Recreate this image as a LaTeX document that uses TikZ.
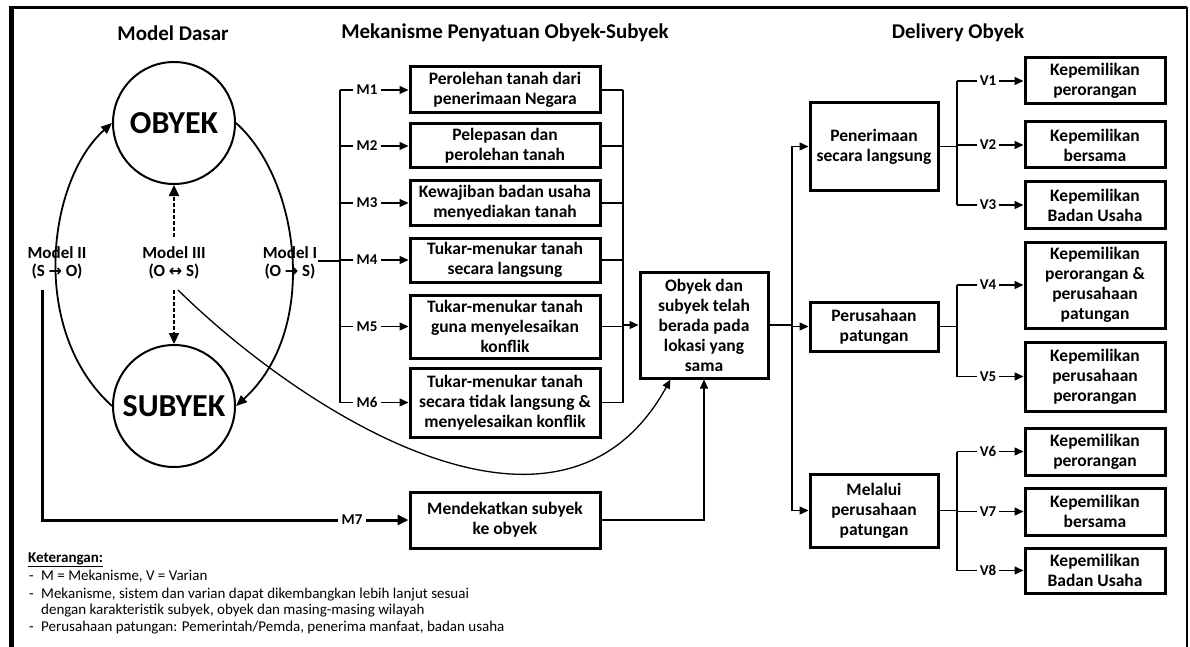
\documentclass[tikz,border=0pt]{standalone}
\usepackage{fontspec}
\setmainfont{Carlito}
\newfontfamily\arrowfont{DejaVu Sans}
\usetikzlibrary{arrows.meta,calc}
\begin{document}
\begin{tikzpicture}[x=1pt,y=-1pt,
  conn/.style={line width=1.3},
  arr/.style={line width=1.3,-{Triangle[length=9,width=8]}},
  thickarr/.style={line width=3,-{Triangle[length=11,width=10]}},
  dasharr/.style={line width=2.2,dash pattern=on 4 off 2,-{Triangle[length=11,width=10]}},
  arcarr/.style={line width=1.8,-{Triangle[length=11,width=9]}},
  box/.style={draw,line width=3,align=center,inner sep=0,font=\fontsize{17.5}{20}\selectfont\bfseries},
  ttl/.style={font=\fontsize{21}{24}\selectfont\bfseries},
  circ/.style={circle,draw,line width=2,minimum size=122,inner sep=0,font=\fontsize{32}{34}\selectfont\bfseries},
  mlab/.style={align=center,inner sep=1,font=\fontsize{17}{18}\selectfont\bfseries},
  lab/.style={inner sep=3,font=\fontsize{15}{16}\selectfont\bfseries},
  note/.style={anchor=base west,inner sep=0,font=\fontsize{15}{17}\selectfont},
]
\useasboundingbox (0,0) rectangle (1190,647);
% frame
\draw[line width=5] (11,647) -- (11,8);
\draw[line width=3] (9,8) -- (1187,8);
\draw[line width=2] (1187,7) -- (1187,647);
% titles
\node[ttl] (t1) at (173,33) {Model Dasar};
\node[ttl] (t2) at (505,33) {Mekanisme Penyatuan Obyek-Subyek};
\node[ttl] (t3) at (958,33) {Delivery Obyek};
% circles
\node[circ] (ob) at (174,123) {OBYEK};
\node[circ] (sb) at (174,406) {SUBYEK};
% model labels
\node[mlab] (mII) at (57,263) {Model II\\(S {\arrowfont\bfseries\fontsize{16}{16}\selectfont →} O)};
\node[mlab] (mIII) at (174,263) {Model III\\(O {\arrowfont\bfseries\fontsize{16}{16}\selectfont ↔} S)};
\node[mlab] (mI) at (290,263) {Model I\\(O {\arrowfont\bfseries\fontsize{16}{16}\selectfont →} S)};
% arcs
\draw[arcarr] (sb.west) .. controls (28,330) and (48,180) .. (ob.west);
\draw[arcarr] (ob.east) .. controls (300,180) and (320,330) .. (sb.east);
% dashed arrows
\coordinate (du) at (174,237);
\coordinate (dd) at (174,290);
\draw[dasharr] (du) -- (ob.south);
\draw[dasharr] (dd) -- (sb.north);
% mechanism boxes
\node[box,minimum width=190,minimum height=46] (b1) at (505,90) {Perolehan tanah dari\\penerimaan Negara};
\node[box,minimum width=190,minimum height=44] (b2) at (505,146) {Pelepasan dan\\perolehan tanah};
\node[box,minimum width=190,minimum height=44] (b3) at (505,203) {Kewajiban badan usaha\\menyediakan tanah};
\node[box,minimum width=190,minimum height=44] (b4) at (505,260) {Tukar-menukar tanah\\secara langsung};
\node[box,minimum width=190,minimum height=63] (b5) at (505,326.5) {Tukar-menukar tanah\\guna menyelesaikan\\konflik};
\node[box,minimum width=190,minimum height=69] (b6) at (505,402.5) {Tukar-menukar tanah\\secara tidak langsung \&\\menyelesaikan konflik};
\node[box,minimum width=190,minimum height=56] (b7) at (505,520) {Mendekatkan subyek\\ke obyek};
% M labels
\coordinate (lb) at (340,0);
\foreach \i in {1,...,6}{
  \node[lab] (m\i) at (367,0 |- b\i) {M\i};
  \draw[conn] (lb |- m\i) -- (m\i.west);
  \draw[arr] (m\i.east) -- (b\i.west);
}
\draw[conn] (lb |- m1) -- (lb |- m6);
\coordinate (mIr) at (318,261);
\draw[conn] (mIr) -- (lb |- mIr);
% central box
\node[box,minimum width=128,minimum height=106] (cb) at (704,325) {Obyek dan\\subyek telah\\berada pada\\lokasi yang\\sama};
\coordinate (rbm) at (623,0);
\foreach \i in {1,...,6}{
  \draw[conn] (b\i.east) -- (rbm |- b\i);
}
\draw[conn] (rbm |- b1) -- (rbm |- b6);
\draw[arr] (rbm |- cb) -- (cb.west);
% curved arrow from Model III
\coordinate (c0) at (178,290);
\draw[arr] (c0) .. controls (300,410) and (560,580) .. ($(cb.south west)+(32,0)$);
% M7
\coordinate (m7a) at (42,290);
\node[lab] (m7) at (352,520) {M7};
\draw[line width=3] (m7a) -- (m7a |- m7) -- (m7.west);
\draw[thickarr] (m7.east) -- (b7.west);
\draw[arr] (b7.east) -| (cb.south);
% delivery boxes
\node[box,minimum width=128,minimum height=87] (d1) at (874,146.5) {Penerimaan\\secara langsung};
\node[box,minimum width=128,minimum height=49] (d2) at (874,326.5) {Perusahaan\\patungan};
\node[box,minimum width=128,minimum height=73] (d3) at (874,510.5) {Melalui\\perusahaan\\patungan};
\coordinate (rb) at (792,0);
\draw[conn] (cb.east) -- (rb |- cb);
\draw[conn] (rb |- d1) -- (rb |- d3);
\foreach \i in {1,2,3}{\draw[arr] (rb |- d\i) -- (d\i.west);}
% variant boxes
\node[box,minimum width=140,minimum height=46] (v1) at (1095,81) {Kepemilikan\\perorangan};
\node[box,minimum width=140,minimum height=46] (v2) at (1095,145) {Kepemilikan\\bersama};
\node[box,minimum width=140,minimum height=46] (v3) at (1095,205) {Kepemilikan\\Badan Usaha};
\node[box,minimum width=140,minimum height=86] (v4) at (1095,285) {Kepemilikan\\perorangan \&\\perusahaan\\patungan};
\node[box,minimum width=140,minimum height=69] (v5) at (1095,376.5) {Kepemilikan\\perusahaan\\perorangan};
\node[box,minimum width=140,minimum height=47] (v6) at (1095,451.5) {Kepemilikan\\perorangan};
\node[box,minimum width=140,minimum height=47] (v7) at (1095,511.5) {Kepemilikan\\bersama};
\node[box,minimum width=140,minimum height=45] (v8) at (1095,570.5) {Kepemilikan\\Badan Usaha};
\coordinate (vb) at (957,0);
\foreach \i in {1,...,8}{
  \node[lab] (vl\i) at (988,0 |- v\i) {V\i};
  \draw[conn] (vb |- vl\i) -- (vl\i.west);
  \draw[arr] (vl\i.east) -- (v\i.west);
}
\draw[conn] (vb |- vl1) -- (vb |- vl3);
\draw[conn] (vb |- vl4) -- (vb |- vl5);
\draw[conn] (vb |- vl6) -- (vb |- vl8);
\draw[conn] (d1.east) -- (vb |- d1);
\draw[conn] (d2.east) -- (vb |- d2);
\draw[conn] (d3.east) -- (vb |- d3);
% notes
\node[note,font=\fontsize{15}{17}\selectfont\bfseries] (k0) at (28,562) {\underline{Keterangan:}};
\node[note] (k1d) at (29,580) {-};
\node[note] (k1) at (41,580) {M = Mekanisme, V = Varian};
\node[note] (k2d) at (29,598) {-};
\node[note] (k2) at (41,598) {Mekanisme, sistem dan varian dapat dikembangkan lebih lanjut sesuai};
\node[note] (k3) at (41,614) {dengan karakteristik subyek, obyek dan masing-masing wilayah};
\node[note] (k4d) at (29,631) {-};
\node[note] (k4) at (41,631) {Perusahaan patungan: Pemerintah/Pemda, penerima manfaat, badan usaha};
\end{tikzpicture}
\end{document}
